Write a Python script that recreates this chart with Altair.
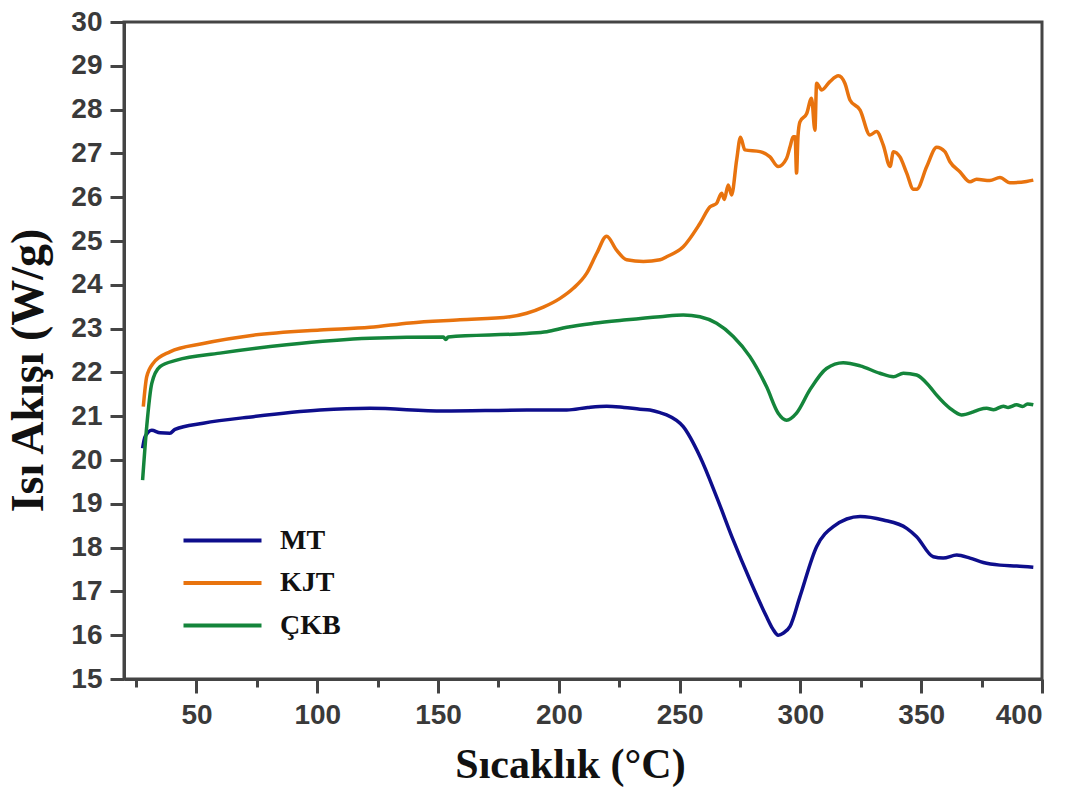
import altair as alt
import pandas as pd

series_names = ["MT", "KJT", "ÇKB"]
series_colors = ["#0e0e8c", "#e8730e", "#14853b"]

mt_x = [27.7, 28.7, 31.5, 34.9, 39.0, 41.1, 52.8, 73.5, 101.1, 121.8, 152.2, 186.7, 203.3, 212.0, 219.8,
        227.0, 233.6, 237.7, 241.9, 244.6, 251.5, 258.4, 265.3, 272.2, 279.1, 286.0, 288.5, 290.8, 293.0,
        295.7, 299.8, 306.7, 313.6, 324.7, 334.3, 344.0, 348.1, 355.0, 359.1, 364.7, 370.2, 375.7, 382.6,
        389.5, 396.4]
mt_y = [20.27, 20.53, 20.68, 20.62, 20.61, 20.70, 20.84, 20.99, 21.14, 21.18, 21.12, 21.14, 21.14, 21.20,
        21.23, 21.20, 21.16, 21.14, 21.08, 21.03, 20.76, 20.08, 19.16, 18.17, 17.26, 16.42, 16.15, 16.00,
        16.05, 16.20, 16.88, 18.02, 18.48, 18.71, 18.63, 18.44, 18.25, 17.79, 17.76, 17.83, 17.76, 17.66,
        17.60, 17.58, 17.55]

kjt_x = [28.0, 29.4, 32.1, 39.0, 52.8, 73.5, 101.1, 121.8, 138.4, 159.1, 179.8, 186.7, 193.6, 200.5, 206.0,
         211.5, 215.7, 219.8, 223.9, 228.1, 235.0, 241.9, 244.6, 251.5, 258.4, 262.6, 265.3, 267.4, 268.5,
         270.1, 271.5, 273.6, 275.2, 277.0, 283.3, 287.4, 290.8, 294.3, 295.7, 297.0, 297.8, 298.4, 299.0,
         299.8, 302.6, 304.6, 306.0, 306.7, 308.8, 312.2, 315.7, 318.4, 320.5, 324.7, 328.8, 331.5, 334.3,
         337.1, 338.5, 341.2, 344.0, 346.8, 348.1, 352.3, 356.4, 359.8, 361.9, 366.0, 370.2, 372.9, 378.4,
         382.6, 386.7, 393.6, 396.4]
kjt_y = [21.22, 21.90, 22.21, 22.47, 22.66, 22.85, 22.97, 23.03, 23.13, 23.20, 23.27, 23.35, 23.49, 23.69,
         23.92, 24.26, 24.72, 25.11, 24.79, 24.57, 24.53, 24.57, 24.64, 24.87, 25.40, 25.78, 25.86, 26.09,
         25.95, 26.28, 26.05, 26.85, 27.37, 27.08, 27.04, 26.92, 26.70, 26.89, 27.15, 27.38, 27.38, 26.55,
         27.40, 27.72, 27.91, 28.26, 27.53, 28.60, 28.45, 28.64, 28.77, 28.60, 28.22, 27.99, 27.42, 27.50,
         27.19, 26.70, 27.04, 26.92, 26.55, 26.18, 26.18, 26.70, 27.14, 27.04, 26.81, 26.58, 26.35, 26.41,
         26.38, 26.45, 26.33, 26.36, 26.39]

ckb_x = [27.7, 29.4, 31.5, 34.9, 41.8, 59.7, 87.3, 121.8, 152.2, 153.2, 154.2, 186.7, 195.0, 203.3, 214.3,
         228.1, 241.9, 251.5, 258.4, 265.3, 272.2, 279.1, 286.0, 290.8, 294.3, 298.4, 303.9, 310.8, 317.7,
         324.7, 332.9, 338.5, 342.6, 348.1, 353.6, 356.4, 361.9, 366.7, 371.6, 374.0, 377.1, 380.0, 384.0,
         386.0, 389.5, 392.0, 394.0, 396.4]
ckb_y = [19.54, 20.76, 21.75, 22.13, 22.28, 22.44, 22.63, 22.78, 22.81, 22.75, 22.81, 22.89, 22.93, 23.03,
         23.12, 23.20, 23.27, 23.31, 23.27, 23.12, 22.82, 22.36, 21.67, 21.07, 20.91, 21.07, 21.60, 22.09,
         22.22, 22.15, 21.98, 21.90, 21.98, 21.94, 21.67, 21.48, 21.18, 21.03, 21.10, 21.15, 21.18, 21.15,
         21.23, 21.20, 21.26, 21.22, 21.28, 21.26]

x_tick_values = list(range(25, 401, 25))
y_tick_values = [15 + 0.5 * i for i in range(31)]

rows = []
for name, xs, ys in [("MT", mt_x, mt_y), ("KJT", kjt_x, kjt_y), ("ÇKB", ckb_x, ckb_y)]:
    for i, (xv, yv) in enumerate(zip(xs, ys)):
        rows.append({"Sicaklik": xv, "Isi": yv, "Seri": name, "i": i})
df = pd.DataFrame(rows)

axis_color = "#444444"
label_color = "#3a3a3a"

x_axis = alt.Axis(
    values=x_tick_values, format="d",
    labelExpr="datum.value % 50 === 0 ? datum.label : ''",
    tickSize={"condition": {"test": "datum.value % 50 === 0", "value": 14}, "value": 8},
    tickWidth=3, tickColor=axis_color, domainColor=axis_color, domainWidth=3,
    labelFont="Liberation Sans", labelFontWeight="bold", labelFontSize=28, labelColor=label_color,
    labelPadding=8, grid=False,
    title="Sıcaklık (°C)", titleFont="Liberation Serif", titleFontWeight="bold", titleFontSize=42,
    titleColor="#111111", titleX=446, titleY=98, titleBaseline="alphabetic", titleAnchor="middle",
)
y_axis = alt.Axis(
    values=y_tick_values, format="d",
    labelExpr="datum.value % 1 === 0 ? datum.label : ''",
    tickSize={"condition": {"test": "datum.value % 1 === 0", "value": 14}, "value": 8},
    tickWidth=3, tickColor=axis_color, domainColor=axis_color, domainWidth=3,
    labelFont="Liberation Sans", labelFontWeight="bold", labelFontSize=28, labelColor=label_color,
    labelPadding=8, grid=False,
    title="Isı Akışı (W/g)", titleFont="Liberation Serif", titleFontWeight="bold", titleFontSize=46,
    titleColor="#111111", titleX=-82, titleY=348, titleBaseline="alphabetic", titleAnchor="middle",
    titleAngle=270,
)

chart = alt.Chart(df).mark_line(strokeWidth=3.5, interpolate="monotone").encode(
    x=alt.X("Sicaklik:Q", scale=alt.Scale(domain=[20, 400], nice=False, zero=False), axis=x_axis),
    y=alt.Y("Isi:Q", scale=alt.Scale(domain=[15, 30], nice=False, zero=False), axis=y_axis),
    color=alt.Color(
        "Seri:N",
        scale=alt.Scale(domain=series_names, range=series_colors),
        legend=alt.Legend(
            title=None, orient="none", legendX=77, legendY=497,
            symbolType="M-2,0H2", symbolSize=1521, symbolStrokeWidth=4,
            labelFont="Liberation Serif", labelFontWeight="bold", labelFontSize=28,
            labelColor="#111111", labelOffset=36, rowPadding=6.5,
        ),
    ),
    order="i:Q",
).properties(
    width=918, height=657,
    autosize=alt.AutoSizeParams(type="none"),
    padding={"left": 124, "top": 22, "right": 30, "bottom": 112},
    background="white",
).configure_view(stroke=axis_color, strokeWidth=3)

chart.save("out.html", embed_options={"renderer": "svg", "actions": False})
